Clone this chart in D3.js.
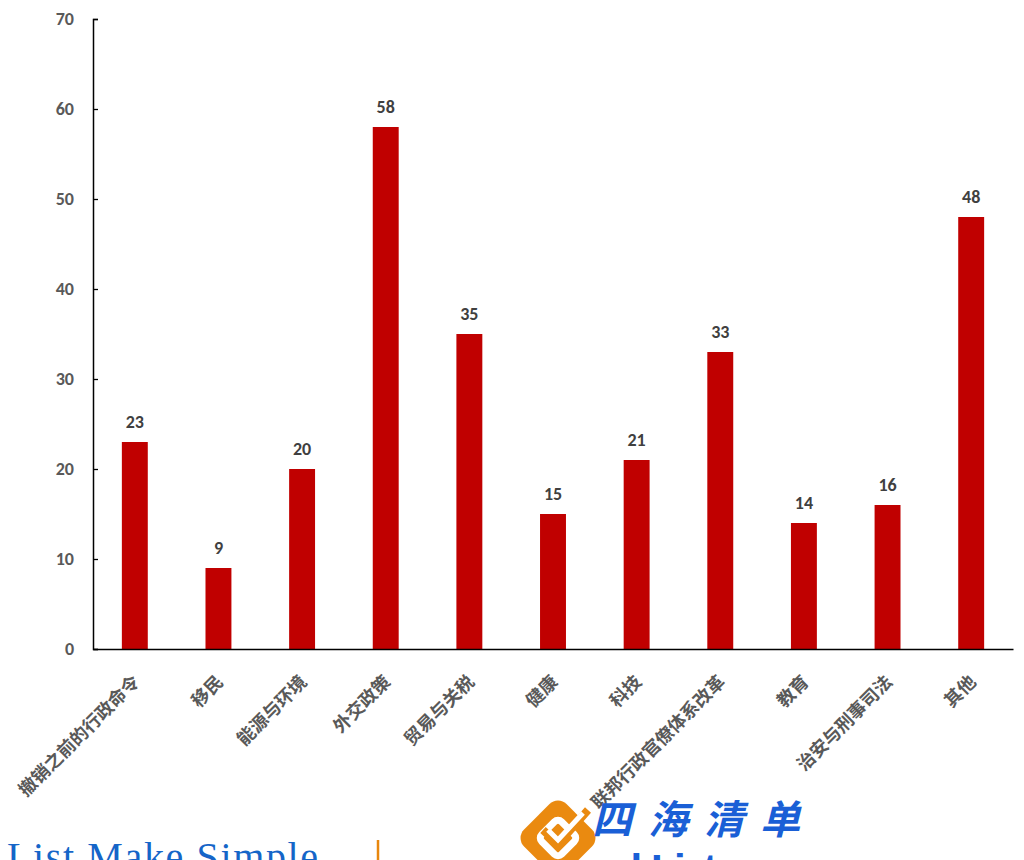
<!DOCTYPE html>
<html><head><meta charset="utf-8">
<script src="https://cdn.jsdelivr.net/npm/d3@7"></script>
<style>body{margin:0;background:#fff;overflow:hidden}svg{display:block}</style>
</head><body>
<script>
const categories = ["撤销之前的行政命令","移民","能源与环境","外交政策","贸易与关税","健康","科技","联邦行政官僚体系改革","教育","治安与刑事司法","其他"];
const values = [23,9,20,58,35,15,21,33,14,16,48];
const yTicks = [0,10,20,30,40,50,60,70];

const W=1024,H=860;
const svg=d3.select("body").append("svg").attr("width",W).attr("height",H);
const x=d3.scaleBand().domain(categories).range([93,1013]).paddingInner(0.69).paddingOuter(0.345);
const y=d3.scaleLinear().domain([0,70]).range([649,19]);
const cjk='"Noto Sans CJK SC","Noto Sans",sans-serif';
const lat='Carlito,"Open Sans","Liberation Sans",sans-serif';

// bars
svg.selectAll("rect.bar").data(values).join("rect").attr("class","bar")
  .attr("x",(d,i)=>x(categories[i])).attr("width",x.bandwidth())
  .attr("y",d=>y(d)).attr("height",d=>y(0)-y(d)).attr("fill","#c00000");

// value labels
svg.selectAll("text.val").data(values).join("text").attr("class","val")
  .attr("x",(d,i)=>x(categories[i])+x.bandwidth()/2).attr("y",d=>y(d)-14)
  .attr("text-anchor","middle").attr("font-family",lat).attr("font-weight","bold")
  .attr("font-size",18).attr("fill","#404040").text(d=>d);

// y axis
const ya=svg.append("g").attr("transform","translate(93,0)")
  .call(d3.axisLeft(y).tickValues(yTicks).tickSizeInner(-5).tickSizeOuter(-5).tickPadding(14));
ya.select(".domain").attr("stroke","#000").attr("stroke-width",1.5);
ya.selectAll(".tick line").attr("stroke","#000").attr("stroke-width",1.3);
ya.selectAll(".tick text").attr("font-family",lat).attr("font-weight","bold").attr("font-size",18).attr("fill","#595959").attr("x",-19);

// x axis
const xa=svg.append("g").attr("transform","translate(0,649)")
  .call(d3.axisBottom(x).tickSize(0).tickPadding(0));
xa.select(".domain").attr("stroke","#000").attr("stroke-width",1.5);
xa.selectAll(".tick text").attr("font-family",cjk).attr("font-weight","bold").attr("font-size",18)
  .attr("fill","#595959").attr("text-anchor","end").attr("dy",0).attr("y",0)
  .attr("transform","translate(6,34) rotate(-45)");

// watermark
const wm=svg.append("g");
wm.append("text").attr("x",7).attr("y",870).attr("font-family",'"Liberation Serif",serif')
  .attr("font-size",40).attr("fill","#1565c8").attr("textLength",311).text("List Make Simple");
wm.append("line").attr("x1",378).attr("x2",378).attr("y1",840).attr("y2",860).attr("stroke","#e8870e").attr("stroke-width",2.5);
const lg=wm.append("g").attr("transform","translate(558,838) rotate(45)");
lg.append("rect").attr("x",-30).attr("y",-30).attr("width",60).attr("height",60).attr("rx",12).attr("fill","#ea8a10");
lg.append("rect").attr("x",-14).attr("y",-14).attr("width",28).attr("height",28).attr("rx",5).attr("fill","none").attr("stroke","#fff").attr("stroke-width",7);
wm.append("path").attr("d","M543,830 L558,844 L588,810").attr("fill","none").attr("stroke","#ea8a10").attr("stroke-width",8);
wm.append("path").attr("d","M548,830 L558,840 L583,813").attr("fill","none").attr("stroke","#fff").attr("stroke-width",5);
wm.append("text").attr("x",592).attr("y",834).attr("font-family",cjk).attr("font-weight","bold")
  .attr("font-size",40).attr("font-style","italic").attr("fill","#1a5fd6").attr("textLength",208).text("四海清单");
wm.append("text").attr("x",596).attr("y",884).attr("font-family",'"Liberation Sans",sans-serif').attr("font-weight","bold")
  .attr("font-size",42).attr("fill","#1a5fd6").attr("textLength",208).text("mkList.com");
</script>
</body></html>
